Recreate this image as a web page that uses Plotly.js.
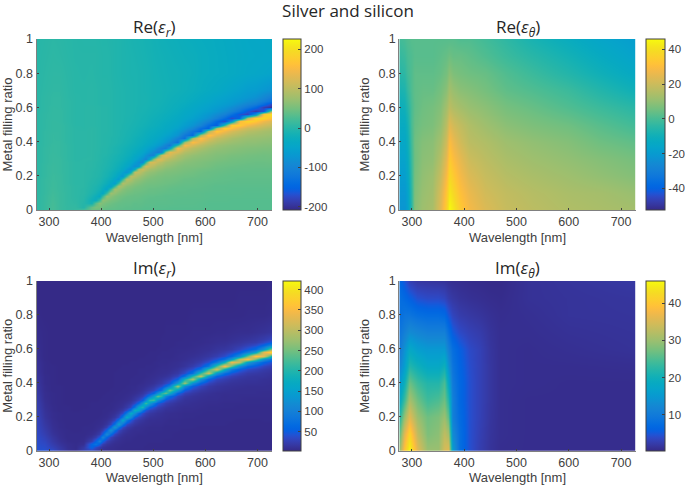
<!DOCTYPE html>
<html>
<head>
<meta charset="utf-8">
<script src="https://cdn.plot.ly/plotly-3.0.1.min.js"></script>
<style>html,body{margin:0;padding:0;background:#fff}</style>
</head>
<body>
<div id="chart" style="width:685px;height:488px"></div>
<script>
var chartTitle = "Silver and silicon";
var xLabel = "Wavelength [nm]";
var yLabel = "Metal filling ratio";
var xTicks = [300,400,500,600,700];
var yTicks = [0,0.2,0.4,0.6,0.8,1];
var yTickText = ["0","0.2","0.4","0.6","0.8","1"];

var waveR = [276,291,306,321,336,351,366,381,388.5,396,403.5,411,418.5,426,433.5,441,448.5,456,463.5,471,478.5,486,493.5,501,508.5,516,523.5,531,546,561,576,591,606,621,636,651,666,681,696,711,728];
var fillR = [0,.02,.04,.06,.08,.1,.12,.14,.16,.18,.2,.22,.24,.26,.28,.3,.32,.34,.36,.38,.4,.42,.44,.46,.48,.5,.52,.54,.56,.58,.6,.62,.64,.66,.7,.8,.9,1];

// one line per wavelength, values along fillR
var reEpsR = [
[5,5,5,5,5,5,5,5,5,5, 4,4,4,4,4,4,4,4,4,4, 3,3,3,3,3,3,3,3,3,3, 2,2,2,2,2,1,1,0],
[12,12,12,12,12,11,11,11,11,11, 10,10,10,10,9,9,9,9,9,8, 8,8,8,8,7,7,7,7,7,6, 6,6,6,6,5,4,3,2],
[22,22,21,20,19,18,17,16,16,15, 15,14,14,14,13,13,13,12,12,12, 11,11,11,10,10,10,10,9,9,9, 9,8,8,8,7,6,5,4],
[14,14,14,14,14,14,13,13,13,13, 13,12,12,12,12,12,11,11,11,11, 11,10,10,10,10,10,9,9,9,9, 8,8,8,8,7,6,4,3],
[10,10,9,9,9,9,9,9,8,8, 8,8,8,8,8,7,7,7,7,7, 6,6,6,6,6,6,5,5,5,5, 5,5,5,4,4,3,2,1],
[12,9,7,6,5,5,5,5,4,4, 4,4,4,4,4,3,3,3,3,3, 3,3,3,3,3,2,2,2,2,2, 2,2,2,2,1,1,0,0],
[22,-2,-1,1,2,3,3,4,4,4, 4,4,4,4,4,4,3,3,3,3, 3,3,3,3,2,2,2,2,2,2, 2,2,1,1,1,0,0,-1],
[45,41,-16,-20,-12,-7,-4,-3,-2,0, 1,1,2,3,3,4,4,4,4,4, 4,4,4,4,4,3,3,3,3,3, 3,2,2,2,2,1,0,-1],
[43,53,32,-27,-23,-14,-9,-7,-4,-3, -1,-1,0,1,1,2,2,2,3,3, 3,3,3,3,3,2,2,2,2,2, 2,1,1,1,1,0,0,-1],
[41,51,61,13,-36,-26,-16,-13,-9,-6, -4,-3,-2,-2,-1,0,0,1,1,1, 1,1,1,1,1,1,1,1,1,1, 1,0,0,0,0,-1,-1,-2],
[39,45,55,65,13,-40,-30,-21,-15,-11, -8,-7,-5,-4,-3,-3,-2,-1,-1,0, 0,0,0,0,0,0,0,0,0,0, 0,-1,-1,-1,-1,-2,-2,-3],
[37,42,48,59,70,12,-46,-35,-24,-18, -13,-11,-9,-7,-6,-5,-3,-2,-2,-1, -1,-1,-1,0,0,0,0,0,0,0, 0,-1,-1,-1,-1,-2,-2,-3],
[36,40,45,51,63,76,12,-53,-40,-27, -21,-17,-13,-11,-10,-8,-7,-5,-5,-4, -3,-3,-2,-2,-2,-2,-2,-2,-2,-2, -2,-2,-2,-2,-2,-3,-3,-4],
[36,39,42,48,54,68,82,12,-59,-45, -31,-25,-19,-16,-14,-12,-10,-8,-8,-6, -5,-5,-4,-4,-4,-4,-4,-4,-4,-4, -4,-4,-4,-4,-4,-5,-5,-5],
[36,37,40,44,49,57,72,86,11,-64, -50,-35,-27,-23,-18,-15,-14,-11,-11,-9, -7,-7,-6,-6,-5,-5,-5,-5,-5,-5, -5,-5,-5,-5,-5,-6,-6,-6],
[35,37,39,41,46,52,60,75,91,11, -70,-54,-38,-31,-25,-20,-17,-15,-14,-12, -10,-9,-8,-8,-7,-7,-6,-6,-6,-6, -6,-6,-6,-6,-6,-7,-7,-7],
[34,36,38,40,43,48,54,62,79,96, 10,-75,-58,-42,-34,-27,-22,-20,-18,-15, -13,-12,-11,-10,-9,-9,-8,-8,-7,-7, -7,-7,-7,-7,-7,-8,-8,-9],
[34,36,38,40,42,46,52,58,69,89, 96,-32,-78,-58,-43,-34,-27,-24,-21,-19, -16,-14,-13,-12,-11,-10,-9,-9,-8,-8, -8,-8,-8,-8,-8,-9,-9,-10],
[33,35,36,39,41,44,47,53,61,72, 92,101,-35,-84,-61,-46,-37,-30,-26,-22, -20,-18,-16,-14,-13,-12,-11,-10,-10,-9, -9,-9,-9,-9,-9,-9,-10,-11],
[33,35,37,38,41,43,47,50,57,66, 79,102,90,-71,-83,-60,-46,-38,-31,-27, -24,-22,-19,-17,-16,-14,-13,-12,-12,-11, -11,-10,-10,-10,-10,-10,-11,-12],
[32,34,36,37,39,42,45,48,52,61, 69,87,111,58,-90,-80,-57,-46,-38,-31, -28,-25,-22,-20,-18,-16,-15,-14,-13,-12, -12,-11,-11,-11,-11,-11,-12,-13],
[32,33,35,36,38,41,44,46,50,56, 64,75,96,117,9,-99,-77,-57,-46,-37, -32,-28,-26,-23,-20,-18,-16,-15,-14,-13, -12,-12,-11,-11,-12,-12,-13,-14],
[32,33,35,35,37,40,42,45,48,53, 59,68,81,105,116,-43,-99,-74,-56,-45, -37,-33,-30,-27,-24,-21,-19,-18,-16,-15, -14,-13,-13,-13,-13,-13,-14,-15],
[32,33,35,35,37,40,42,45,48,52, 56,65,76,94,121,63,-101,-91,-66,-52, -44,-36,-33,-29,-26,-23,-22,-20,-18,-17, -16,-15,-15,-14,-14,-15,-16,-17],
[31,33,34,35,36,39,41,44,47,50, 53,60,69,80,104,127,8,-110,-87,-63, -52,-43,-37,-33,-30,-26,-24,-22,-20,-18, -17,-16,-16,-15,-15,-16,-17,-18],
[31,33,34,35,36,38,41,43,46,49, 52,58,66,76,94,122,106,-90,-105,-77, -60,-49,-42,-36,-32,-30,-27,-24,-22,-20, -19,-18,-17,-16,-16,-17,-18,-20],
[31,33,34,35,35,37,40,42,45,47, 50,55,60,69,81,102,131,67,-113,-101, -74,-59,-49,-41,-36,-34,-30,-27,-25,-22, -21,-20,-19,-18,-17,-18,-19,-21],
[31,32,34,34,35,37,38,41,44,47, 50,54,59,66,77,92,120,133,-53,-119, -89,-68,-56,-46,-40,-37,-33,-30,-27,-25, -23,-22,-21,-20,-18,-19,-20,-22],
[31,32,33,33,35,36,37,39,42,45, 47,52,55,59,67,78,91,118,146,7, -131,-103,-77,-63,-52,-45,-40,-37,-33,-30, -27,-26,-24,-23,-20,-20,-22,-24],
[31,32,33,33,34,36,37,38,40,42, 45,49,52,55,61,67,78,91,116,149, 75,-133,-119,-87,-71,-59,-50,-45,-41,-38, -33,-30,-27,-26,-23,-22,-24,-26],
[31,32,33,33,34,35,36,38,40,41, 44,47,50,54,58,62,69,81,95,120, 156,78,-140,-125,-93,-75,-63,-53,-47,-44, -40,-37,-33,-30,-26,-24,-25,-28],
[31,32,32,33,34,34,36,37,38,40, 42,44,47,52,55,59,65,71,84,99, 125,162,81,-149,-133,-98,-80,-66,-57,-51, -47,-43,-39,-36,-30,-28,-28,-30],
[31,31,31,32,33,33,35,36,37,39, 41,42,45,49,52,57,61,66,73,86, 101,128,166,83,-153,-138,-102,-82,-70,-59, -53,-50,-44,-41,-34,-30,-30,-31],
[30,31,31,32,32,33,34,34,36,38, 39,41,43,45,49,53,57,61,68,74, 88,104,131,171,85,-159,-143,-106,-86,-72, -62,-55,-52,-47,-37,-32,-32,-33],
[31,31,31,32,32,33,34,34,36,37, 38,40,42,44,47,51,55,60,64,70, 80,94,110,145,180,4,-171,-137,-102,-85, -72,-62,-56,-52,-43,-33,-34,-35],
[30,31,31,31,32,33,33,34,35,37, 37,39,40,43,46,48,52,57,62,66, 74,84,99,121,159,177,-81,-173,-131,-101, -84,-70,-63,-57,-48,-36,-36,-37],
[30,31,31,31,32,33,33,34,35,36, 37,38,40,42,45,47,51,55,59,64, 70,77,90,107,132,174,151,-145,-167,-126, -100,-84,-71,-63,-53,-39,-38,-39],
[30,31,31,31,32,32,33,34,35,36, 37,38,40,41,44,46,49,53,57,62, 66,73,81,95,113,145,188,92,-179,-162, -120,-99,-83,-70,-60,-42,-40,-41],
[30,31,31,31,32,32,33,34,35,36, 37,38,39,41,43,45,48,52,56,61, 66,71,78,90,106,129,171,190,-90,-188, -143,-111,-93,-78,-62,-44,-41,-42],
[30,31,31,31,32,32,33,34,35,36, 37,38,39,41,43,45,47,50,55,59, 63,69,75,83,97,115,143,189,164,-160, -184,-139,-110,-93,-70,-46,-42,-42],
[30,31,31,31,32,33,34,34,35,36, 37,38,39,41,44,45,48,51,54,58, 63,66,72,79,88,105,124,160,209,101, -201,-181,-134,-111,-79,-50,-42,-40]
];

var imEpsR = [
[40,40,39,38,37,35,34,33,32,31, 30,28,27,25,24,22,21,19,18,17, 16,15,14,13,12,12,11,10,9,9, 8,8,7,7,6,4,3,3],
[42,38,35,32,28,25,22,20,18,16, 14,13,12,11,10,9,8,8,7,7, 6,6,6,5,5,5,5,4,4,4, 4,4,4,4,4,3,3,3],
[36,28,23,19,16,13,11,10,9,8, 7,7,6,6,5,5,5,5,4,4, 4,4,4,4,4,4,3,3,3,3, 3,3,3,3,3,3,3,3],
[22,18,14,11,9,8,7,6,6,5, 5,5,4,4,4,4,4,4,4,4, 3,3,3,3,3,3,3,3,3,3, 3,3,3,3,3,3,3,3],
[11,9,8,6,5,5,5,4,4,4, 4,4,4,4,3,3,3,3,3,3, 3,3,3,3,3,3,3,3,3,3, 3,3,3,3,3,3,3,3],
[7,6,6,5,5,5,4,4,4,4, 4,4,3,3,3,3,3,3,3,3, 3,3,3,3,3,3,3,3,3,3, 3,3,3,3,3,3,3,3],
[25,18,10,7,6,5,5,5,4,4, 4,4,4,3,3,3,3,3,3,3, 3,3,3,3,3,3,3,3,3,3, 3,3,3,3,3,3,3,3],
[25,59,59,25,13,8,6,5,5,4, 4,4,4,4,4,3,3,3,3,3, 3,3,3,3,3,3,3,3,3,3, 3,3,3,3,3,3,3,3],
[17,35,80,55,23,13,8,7,6,5, 4,4,4,4,4,3,3,3,3,3, 3,3,3,3,3,3,3,3,3,3, 3,3,3,3,3,3,3,3],
[13,22,50,98,50,22,13,9,7,6, 5,4,4,4,4,4,3,3,3,3, 3,3,3,3,3,3,3,3,3,3, 3,3,3,3,3,3,3,3],
[9,13,24,55,108,55,24,13,9,7, 6,5,5,4,4,4,4,3,3,3, 3,3,3,3,3,3,3,3,3,3, 3,3,3,3,3,3,3,3],
[7,10,15,26,60,118,60,26,15,10, 7,6,5,5,4,4,4,4,3,3, 3,3,3,3,3,3,3,3,3,3, 3,3,3,3,3,3,3,3],
[6,8,11,16,29,67,131,67,29,16, 11,8,6,5,5,4,4,4,4,3, 3,3,3,3,3,3,3,3,3,3, 3,3,3,3,3,3,3,3],
[6,7,8,11,17,31,73,143,73,31, 17,11,8,7,6,5,5,4,4,4, 4,4,4,4,3,3,3,3,3,3, 3,3,3,3,3,3,3,3],
[5,6,7,9,12,18,33,78,153,78, 33,18,12,9,7,6,5,5,4,4, 4,4,4,4,4,3,3,3,3,3, 3,3,3,3,3,3,3,3],
[5,5,6,7,9,12,19,35,83,163, 83,35,19,12,9,7,6,5,5,4, 4,4,4,4,4,4,3,3,3,3, 3,3,3,3,3,3,3,3],
[4,5,5,6,7,9,13,20,37,88, 173,88,37,20,13,9,7,6,5,5, 4,4,4,4,4,4,3,3,3,3, 3,3,3,3,3,3,3,3],
[4,5,5,6,7,8,10,15,24,47, 118,172,73,33,18,12,9,7,6,6, 5,5,4,4,4,4,4,3,3,3, 3,3,3,3,3,3,3,3],
[4,5,5,5,6,7,8,10,16,25, 50,125,182,77,34,19,13,9,7,6, 5,5,5,4,4,4,4,3,3,3, 3,3,3,3,3,3,3,3],
[4,5,5,5,5,6,8,9,12,18, 31,65,163,163,65,31,18,12,9,8, 6,5,5,5,5,4,4,4,3,3, 3,3,3,3,3,3,3,3],
[4,5,5,5,5,6,7,8,10,14, 21,37,84,198,135,54,27,17,12,9, 7,6,5,5,5,4,4,4,3,3, 3,3,3,3,3,3,3,3],
[4,4,5,5,5,6,6,7,9,11, 16,25,46,110,218,110,46,25,16,11, 9,7,6,6,5,5,4,4,4,3, 3,3,3,3,3,3,3,3],
[4,4,4,5,5,5,6,6,8,9, 12,18,29,58,145,212,90,40,22,14, 10,8,7,6,5,5,4,4,4,4, 3,3,3,3,3,3,3,3],
[4,4,4,5,5,5,6,6,7,9, 11,15,23,41,93,219,150,60,30,18, 12,10,8,7,6,5,5,4,4,4, 3,3,3,3,3,3,3,3],
[4,4,4,5,5,5,6,6,7,8, 10,12,17,27,50,121,240,121,50,27, 17,12,10,8,7,6,6,5,5,4, 4,3,3,3,3,3,3,3],
[4,4,4,5,5,5,6,6,7,8, 9,11,15,21,37,79,199,199,79,37, 21,15,11,9,8,7,6,6,5,5, 4,4,4,4,3,3,3,3],
[4,4,4,4,5,5,5,5,6,7, 8,9,11,16,25,45,101,240,164,65, 32,20,13,10,8,7,6,6,5,5, 4,4,4,4,4,3,3,3],
[4,4,4,4,5,5,5,5,6,6, 7,8,11,13,20,33,67,169,247,104, 46,25,17,12,9,8,7,6,5,5, 5,4,4,4,4,3,3,3],
[4,4,4,4,4,4,5,5,6,6, 7,7,9,10,13,19,31,58,140,278, 140,58,31,19,13,10,9,7,7,6, 6,5,5,4,4,3,3,3],
[4,4,4,4,4,4,4,5,5,5, 6,6,7,8,11,12,18,28,51,116, 276,189,74,37,22,14,12,9,8,7, 6,5,5,5,4,3,3,3],
[4,4,4,4,4,4,4,5,5,5, 6,6,7,8,9,11,13,19,29,53, 122,290,198,78,39,23,15,13,10,8, 7,6,6,5,5,4,3,3],
[4,4,4,4,4,4,4,4,5,5, 5,6,6,7,8,9,11,13,19,31, 56,128,304,208,82,40,24,16,13,10, 9,7,6,6,5,4,3,3],
[4,4,4,4,4,4,4,4,5,5, 5,5,6,6,7,8,9,11,14,19, 31,57,132,313,214,84,42,25,17,13, 10,9,7,7,5,4,3,3],
[4,4,4,4,4,4,4,4,5,5, 5,5,6,6,7,8,9,9,12,14, 20,32,59,136,323,221,87,43,25,17, 14,11,9,8,6,4,3,3],
[4,4,4,4,4,4,4,4,5,5, 5,5,5,6,6,7,7,8,10,12, 16,24,38,73,178,353,178,73,38,24, 16,12,10,8,6,4,3,3],
[4,4,4,4,4,4,4,4,4,5, 5,5,5,6,6,7,8,8,9,11, 13,18,27,45,92,233,341,143,62,34, 20,16,12,10,7,4,3,3],
[4,4,4,4,4,4,4,4,4,4, 5,5,5,5,6,7,7,8,8,10, 12,15,20,31,54,118,299,299,118,54, 31,20,15,12,8,4,4,3],
[4,4,4,4,4,4,4,4,4,4, 5,5,5,5,6,6,7,8,8,9, 11,13,16,21,36,66,151,360,246,97, 47,28,19,14,8,5,4,3],
[4,4,4,4,4,4,4,4,4,4, 5,5,5,5,6,6,7,8,8,9, 11,13,14,19,29,49,99,253,370,155, 67,37,22,17,10,5,4,3],
[4,4,4,4,4,4,4,4,4,5, 5,5,5,5,6,6,7,7,8,9, 10,11,14,16,22,33,59,129,327,327, 129,59,33,22,12,5,4,3],
[4,4,4,4,4,4,4,4,4,5, 5,5,5,5,6,6,7,7,8,8, 9,10,11,13,17,23,39,73,168,400, 273,107,52,31,15,7,5,4]
];

var fillTheta = [0,.1,.2,.3,.4,.5,.6,.7,.8,.9,1];

// one line per filling ratio, values along waveReTheta
var waveReTheta = [276,285,292,298,305,320,340,355,365,372,380,392,410,440,480,530,600,660,728];
var reEpsTheta = [
[-22,-22,-18,-5,8,12,14,24,36,46,42,34,28,23,19,17,15,14,13],
[-21,-21,-17,-4,7,11,13,22,33,42,38,31,26,21,18,16,14,13,11],
[-19,-19,-15,-3,6,10,12,19,29,38,34,28,23,19,16,14,12,10,8],
[-17,-17,-13,-2,5,9,10,16,25,34,30,25,20,17,14,12,10,8,6],
[-15,-15,-11,-1,5,8,9,13,21,30,26,21,17,15,12,10,8,5,3],
[-13,-13,-9,0,4,6,7,10,17,24,21,18,15,12,9,7,5,2,-1],
[-11,-10,-6,0,3,5,6,8,13,17,15,13,11,9,6,4,1,-2,-5],
[-8,-7,-3,1,3,4,4,6,9,13,11,9,8,6,3,1,-2,-6,-10],
[-5,-4,-1,1,3,3,3,4,6,9,7,6,5,4,1,-2,-6,-10,-14],
[-3,-2,0,1,2,2,2,3,4,5,4,4,3,1,-2,-5,-9,-13,-17],
[-1,0,1,2,2,2,2,2,2,2,2,1,1,-1,-4,-8,-12,-16,-19]
];

var waveImTheta = [276,285,295,310,330,350,362,370,378,390,410,430,450,470,520,600,728];
var imEpsTheta = [
[30,40,46,36,30,30,35,36,16,8,4.5,2.6,1.5,.9,.8,.8,.8],
[26,36,42,33,28,29,33,31,13,8,4.5,2.8,1.6,1,.8,.8,.8],
[22,30,36,30,27,28,30,26,11,7.5,4.5,3,1.7,1,.8,.8,.8],
[18,24,31,27,24,25,27,22,11,7,4.5,3,1.8,1,.8,.8,.8],
[15,20,27,24,22,22,25,18,10,7,4.5,3,1.8,1,.9,.8,.8],
[12,16,22,20,18,18,20,14,9,6.5,4.3,3,1.8,1,.9,.9,1],
[10,14,18,16,15,15,15,11,8,6,4,3,1.7,1,.9,1.1,1.4],
[9,11,13,12,11,11,11,8,5.5,4,3,2.4,1.5,1,1,1.3,1.5],
[8,9,9,8,7.5,7.5,7,5,3.5,2.5,2,1.6,1.2,.9,1.1,1.5,1.6],
[8,7,6,4.5,4,4,3.5,2.5,2,1.5,1.2,1,.8,.7,1.3,1.5,1.7],
[7,5,3,2,1.8,1.6,1.5,1.2,1,.9,.7,.6,.5,.5,1.3,1.6,2]
];

var parula = [[.2081,.1663,.5292],[.2116,.1898,.5777],[.2123,.2138,.627],[.2081,.2386,.6771],[.1959,.2645,.7279],[.1707,.2919,.7792],[.1253,.3242,.8303],[.0591,.3598,.8683],[.0117,.3875,.882],[.006,.4086,.8828],[.0165,.4266,.8786],[.0329,.443,.872],[.0498,.4586,.8641],[.0629,.4737,.8554],[.0723,.4887,.8467],[.0779,.504,.8384],[.0793,.52,.8312],[.0749,.5375,.8263],[.0641,.557,.824],[.0488,.5772,.8228],[.0343,.5966,.8199],[.0265,.6137,.8135],[.0239,.6287,.8038],[.0231,.6418,.7913],[.0228,.6535,.7768],[.0267,.6642,.7607],[.0384,.6743,.7436],[.059,.6838,.7254],[.0843,.6928,.7062],[.1133,.7015,.6859],[.1453,.7098,.6646],[.1801,.7177,.6424],[.2178,.725,.6193],[.2586,.7317,.5954],[.3022,.7376,.5712],[.3482,.7424,.5473],[.3953,.7459,.5244],[.442,.7481,.5033],[.4871,.7491,.484],[.53,.7491,.4661],[.5709,.7485,.4494],[.6099,.7473,.4337],[.6473,.7456,.4188],[.6834,.7435,.4044],[.7184,.7411,.3905],[.7525,.7384,.3768],[.7858,.7356,.3633],[.8185,.7327,.3498],[.8507,.7299,.336],[.8824,.7274,.3217],[.9139,.7258,.3063],[.945,.7261,.2886],[.9739,.7314,.2666],[.9938,.7455,.2403],[.999,.7653,.2164],[.9955,.7861,.1967],[.988,.8066,.1794],[.9789,.8271,.1633],[.9697,.8481,.1475],[.9626,.8705,.1309],[.9589,.8949,.1132],[.9598,.9218,.0948],[.9661,.9514,.0755],[.9763,.9831,.0538]];
var colorscale = parula.map(function(c,i){
  return [i/(parula.length-1),'rgb('+c.map(function(v){return Math.round(v*255)}).join(',')+')'];
});

var W=685,H=488;
var inkColor='#404040';
var tickFont={family:'"Liberation Sans",Arial,sans-serif',size:12.5,color:inkColor};
var panels=[
 {ax:'',  x0:36.5, x1:272,   y0:39,  y1:210,   ty:28,  cb:283, cw:18, x:waveR, y:fillR, z:reEpsR, tr:true,  zr:[-208,226], tv:[-200,-100,0,100,200], t:'Re(<i>ε<sub>r</sub></i>)'},
 {ax:'2', x0:399.3,x1:635.7, y0:39,  y1:210,   ty:28,  cb:646, cw:19, x:waveReTheta, y:fillTheta, z:reEpsTheta, tr:false, zr:[-52.5,45.9], tv:[-40,-20,0,20,40], t:'Re(<i>ε<sub>θ</sub></i>)'},
 {ax:'3', x0:36.5, x1:272,   y0:281, y1:450.7, ty:268, cb:283, cw:18, x:waveR, y:fillR, z:imEpsR, tr:true,  zr:[3,422], tv:[50,100,150,200,250,300,350,400], t:'Im(<i>ε<sub>r</sub></i>)'},
 {ax:'4', x0:399.3,x1:635.7, y0:281, y1:450.7, ty:268, cb:646, cw:19, x:waveImTheta, y:fillTheta, z:imEpsTheta, tr:false, zr:[.4,46], tv:[10,20,30,40], t:'Im(<i>ε<sub>θ</sub></i>)'}
];
var data=[], layout={
  width:W,height:H,autosize:false,paper_bgcolor:'#fff',plot_bgcolor:'#fff',
  margin:{l:0,r:0,t:0,b:0,autoexpand:false},
  font:{family:'"Liberation Sans",Arial,sans-serif',color:inkColor},
  title:{text:chartTitle,x:348/W,xref:'paper',xanchor:'center',y:1-11/H,yref:'paper',yanchor:'middle',automargin:false,font:{family:'"Open Sans",sans-serif',size:17,color:'#262626'}},
  annotations:[]
};
panels.forEach(function(p){
  data.push({type:'heatmap',x:p.x,y:p.y,z:p.z,transpose:p.tr,xaxis:'x'+p.ax,yaxis:'y'+p.ax,
    colorscale:colorscale,zauto:false,zmin:p.zr[0],zmax:p.zr[1],zsmooth:'best',hoverinfo:'skip',
    colorbar:{x:p.cb/W,xref:'paper',xanchor:'left',y:1-p.y1/H,yref:'paper',yanchor:'bottom',
      len:(p.y1-p.y0)/H,lenmode:'fraction',thickness:p.cw,thicknessmode:'pixels',xpad:0,ypad:0,
      outlinecolor:inkColor,outlinewidth:1,tickmode:'array',tickvals:p.tv,ticktext:p.tv.map(String),
      ticks:'inside',ticklen:3,tickcolor:inkColor,tickfont:{family:tickFont.family,size:11.5,color:inkColor}}
  });
  layout['xaxis'+p.ax]={domain:[p.x0/W,p.x1/W],range:[276,728],anchor:'y'+p.ax,tickmode:'array',tickvals:xTicks,
    ticks:'inside',ticklen:2,tickcolor:inkColor,showgrid:false,zeroline:false,showline:true,linecolor:'#808080',linewidth:1,mirror:false,
    tickfont:tickFont,title:{text:xLabel,font:{family:tickFont.family,size:13,color:inkColor},standoff:4},automargin:false};
  layout['yaxis'+p.ax]={domain:[1-p.y1/H,1-p.y0/H],range:[0,1],anchor:'x'+p.ax,tickmode:'array',tickvals:yTicks,ticktext:yTickText,
    ticks:'inside',ticklen:2,tickcolor:inkColor,showgrid:false,zeroline:false,showline:true,linecolor:'#808080',linewidth:1,mirror:false,
    tickfont:tickFont,title:{text:yLabel,font:{family:tickFont.family,size:13,color:inkColor},standoff:5},automargin:false};
  layout.annotations.push({text:p.t,xref:'paper',yref:'paper',x:(p.x0+p.x1)/2/W,y:1-p.ty/H,xanchor:'center',yanchor:'middle',showarrow:false,
    font:{family:'"Open Sans",sans-serif',size:17,color:'#262626'}});
});
Plotly.newPlot('chart',data,layout,{displayModeBar:false,staticPlot:true});
</script>
</body>
</html>
